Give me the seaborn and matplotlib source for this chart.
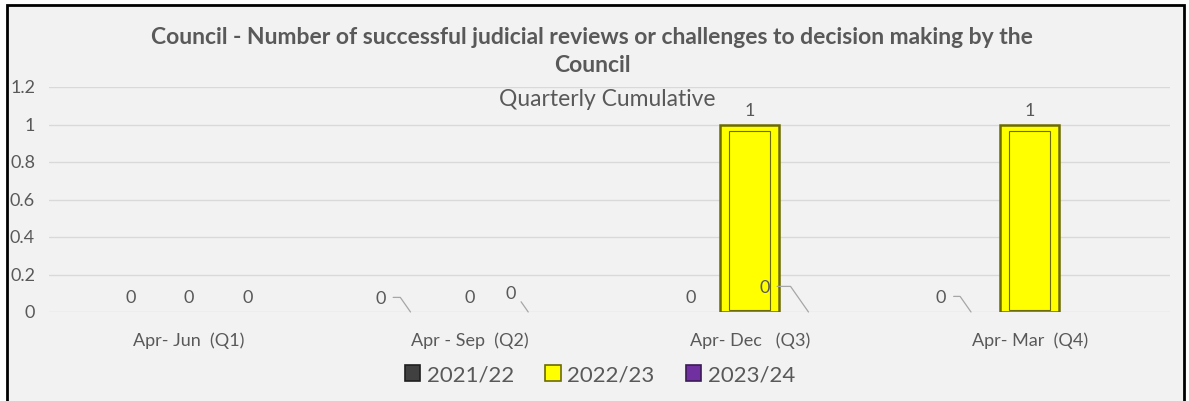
import matplotlib.pyplot as plt
import seaborn as sns
import pandas as pd
import numpy as np
from matplotlib.patches import Rectangle, Patch

# data
quarters = ['Apr- Jun  (Q1)', 'Apr - Sep  (Q2)', 'Apr- Dec   (Q3)', 'Apr- Mar  (Q4)']
years = ['2021/22', '2022/23', '2023/24']
v_2021 = [0, 0, 0, 0]
v_2022 = [0, 0, 1, 1]
v_2023 = [0, 0, 0, np.nan]

df = pd.DataFrame({
    'quarter': quarters * 3,
    'year': [y for y in years for _ in quarters],
    'value': v_2021 + v_2022 + v_2023,
})

palette = {'2021/22': '#404040', '2022/23': '#ffff00', '2023/24': '#7030a0'}
edges = {'2021/22': '#1f1f1f', '2022/23': '#6b6b00', '2023/24': '#3c1a57'}
txt = '#595959'

sns.set_theme(style='white')
plt.rcParams['font.family'] = ['Lato', 'DejaVu Sans']

fig = plt.figure(figsize=(11.89, 4.01), dpi=100)
fig.patch.set_facecolor('white')
# chart area with dark border
fig.add_artist(Rectangle((7 / 1189, -0.02), 1177 / 1189, 1.02 - 5 / 401,
                         transform=fig.transFigure, facecolor='#f2f2f2',
                         edgecolor='black', linewidth=2, zorder=-10))

ax = fig.add_axes([49 / 1189, 1 - 312 / 401, 1121 / 1189, 225 / 401])
ax.set_facecolor('none')

sns.barplot(data=df, x='quarter', y='value', hue='year', hue_order=years,
            palette=palette, saturation=1, width=0.63, legend=False, ax=ax, zorder=3)

ax.set_ylim(0, 1.2)
ax.set_yticks(np.arange(0, 1.21, 0.2))
ax.set_yticklabels(['0', '0.2', '0.4', '0.6', '0.8', '1', '1.2'])
ax.grid(axis='y', color='#d9d9d9', linewidth=1, zorder=0)
ax.set_axisbelow(True)
for s in ax.spines.values():
    s.set_visible(False)
ax.tick_params(axis='y', labelsize=13, colors=txt, length=0, pad=10)
ax.tick_params(axis='x', labelsize=13, colors=txt, length=0, pad=15)
ax.set_xlabel('')
ax.set_ylabel('')

# bevelled look + data labels (some zero labels pushed aside with leader lines)
label_offsets = {
    ('2021/22', 1): (-30, 13), ('2023/24', 1): (-18, 18),
    ('2023/24', 2): (-44, 24), ('2021/22', 3): (-30, 14),
}
for cont, yr in zip(ax.containers, years):
    vals = df[df['year'] == yr]['value'].tolist()
    for i, (bar, v) in enumerate(zip(cont.patches, vals)):
        if np.isnan(v):
            continue
        x0, w, h = bar.get_x(), bar.get_width(), bar.get_height()
        if h > 0:
            bar.set_edgecolor(edges[yr])
            bar.set_linewidth(1.8)
            ax.add_patch(Rectangle((x0 + w * 0.15, h * 0.012), w * 0.7, h * 0.955,
                                   facecolor='none', edgecolor=edges[yr],
                                   linewidth=0.8, zorder=4))
        else:
            bar.set_linewidth(0)
        cx = x0 + w / 2
        if (yr, i) in label_offsets:
            dx, dy = label_offsets[(yr, i)]
            ax.annotate(f'{v:g}', xy=(cx, h), xytext=(dx, dy),
                        textcoords='offset pixels', ha='center', va='center',
                        fontsize=13, color=txt,
                        arrowprops=dict(arrowstyle='-', color='#a6a6a6', lw=0.9,
                                        relpos=(1, 0.6), shrinkA=3, shrinkB=0,
                                        connectionstyle='angle,angleA=0,angleB=125,rad=0'))
        else:
            ax.annotate(f'{v:g}', xy=(cx, h), xytext=(0, 14),
                        textcoords='offset pixels', ha='center', va='center',
                        fontsize=13, color=txt)

fig.text(592 / 1189, 1 - 37 / 401, 'Council - Number of successful judicial reviews or challenges to decision making by the',
         ha='center', va='center', fontsize=16.5, fontweight='bold', color=txt)
fig.text(592 / 1189, 1 - 65 / 401, 'Council', ha='center', va='center',
         fontsize=16.5, fontweight='bold', color=txt)
fig.text(607 / 1189, 1 - 100 / 401, 'Quarterly Cumulative', ha='center', va='center',
         fontsize=16.5, color=txt)

handles = [Patch(facecolor=palette[y], edgecolor=edges[y], linewidth=1.2) for y in years]
fig.legend(handles, years, loc='center', bbox_to_anchor=(600 / 1189, 1 - 375 / 401),
           ncol=3, frameon=False, fontsize=16, handlelength=0.7, handleheight=0.7,
           handletextpad=0.3, columnspacing=1.4, labelcolor=txt)

fig.savefig('out.png', dpi=100, facecolor='white')
